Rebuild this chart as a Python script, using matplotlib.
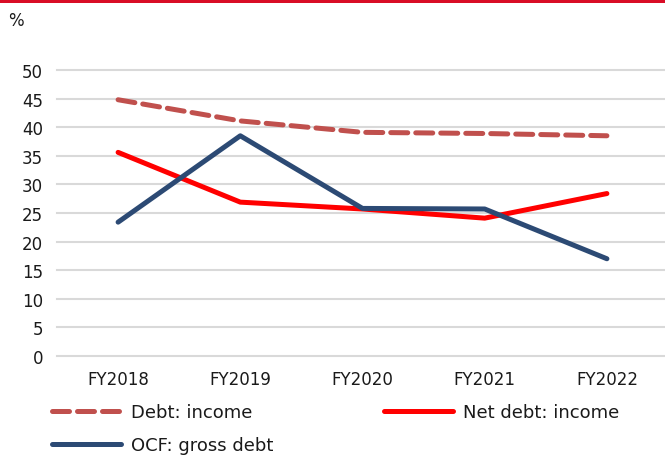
import matplotlib
matplotlib.use("Agg")
import matplotlib.pyplot as plt
from matplotlib.patches import Rectangle

years = ["FY2018", "FY2019", "FY2020", "FY2021", "FY2022"]
debt_income = [44.8, 41.1, 39.1, 38.9, 38.5]
net_debt_income = [35.6, 26.9, 25.7, 24.1, 28.4]
ocf_gross_debt = [23.4, 38.5, 25.8, 25.7, 17.0]
yticks = list(range(0, 55, 5))

W, H = 665, 456
plt.rcParams["font.family"] = ["DejaVu Sans"]
fig = plt.figure(figsize=(W / 100, H / 100), dpi=100)

# red header band along the top edge
fig.patches.append(Rectangle((0, 1 - 4 / H), 1, 4 / H, transform=fig.transFigure,
                             facecolor="#D90D26", edgecolor="none", zorder=0))

ax = fig.add_axes([57 / W, 99 / H, 611 / W, 286 / H])
x = range(len(years))

l_debt, = ax.plot(x, debt_income, color="#C0504D", lw=3.6, linestyle=(0, (3.4, 1.6)),
                  dash_capstyle="round", solid_capstyle="round", label="Debt: income", zorder=3)
l_net, = ax.plot(x, net_debt_income, color="#FF0000", lw=3.6, solid_capstyle="round",
                 solid_joinstyle="round", label="Net debt: income", zorder=3)
l_ocf, = ax.plot(x, ocf_gross_debt, color="#2C4A74", lw=3.6, solid_capstyle="round",
                 solid_joinstyle="round", label="OCF: gross debt", zorder=4)

ax.set_xlim(-0.5, len(years) - 0.5)
ax.set_ylim(0, 50)
ax.set_yticks(yticks)
ax.set_xticks(list(x))
ax.set_xticklabels(years)
ax.tick_params(axis="both", length=0, labelsize=12, colors="#1a1a1a")
ax.tick_params(axis="y", pad=10)
ax.tick_params(axis="x", pad=10)
for s in ax.spines.values():
    s.set_visible(False)
ax.grid(axis="y", color="#D9D9D9", lw=1.5)
for gl in ax.get_ygridlines():
    gl.set_clip_on(False)
ax.set_axisbelow(True)

fig.text(8 / W, 1 - 21 / H, "%", fontsize=12, va="center", ha="left", color="#1a1a1a")

# column-major fill: Debt / OCF in the first column, Net debt in the second
fig.legend(handles=[l_debt, l_ocf, l_net], loc="upper left",
           bbox_to_anchor=(52 / W, 1 - 404 / H), ncol=2,
           frameon=False, fontsize=13, handlelength=3.8, handletextpad=0.6,
           columnspacing=6.1, labelspacing=0.85, borderaxespad=0, borderpad=0,
           labelcolor="#1a1a1a")

fig.savefig("out.png", dpi=100)
